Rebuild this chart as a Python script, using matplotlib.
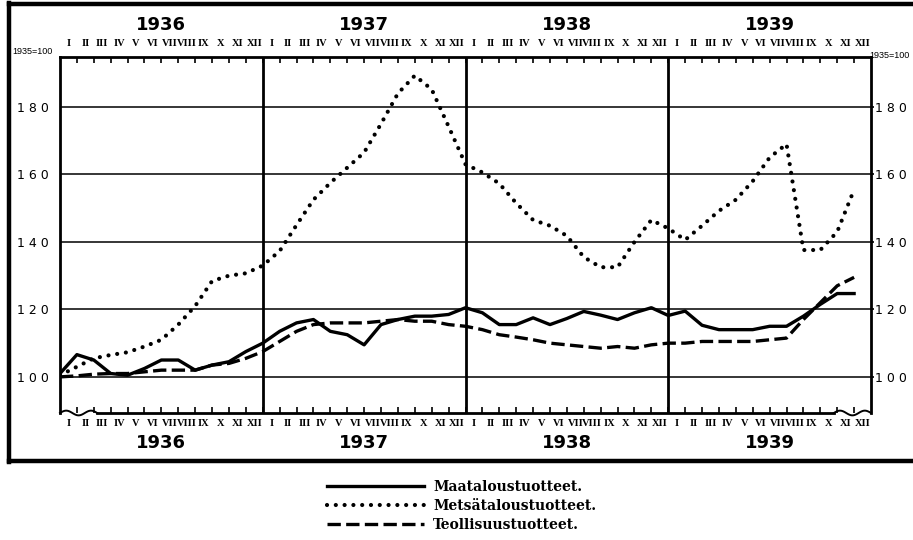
import numpy as np
import matplotlib
matplotlib.use("Agg")
import matplotlib.pyplot as plt
from matplotlib.lines import Line2D

# index values 1935 = 100, monthly, Jan 1936 .. Dec 1939
years = ["1936", "1937", "1938", "1939"]
months = ["I", "II", "III", "IV", "V", "VI", "VII", "VIII", "IX", "X", "XI", "XII"]

maatalous = [
    101, 106.6, 105, 101, 100.5, 102.5, 105, 105, 102, 103.5, 104.5, 107.5,
    110, 113.5, 116, 117, 113.5, 112.5, 109.5, 115.5, 117, 118, 118, 118.5,
    120.5, 119, 115.5, 115.5, 117.5, 115.5, 117.3, 119.4, 118.3, 117, 119, 120.5,
    118.2, 119.5, 115.3, 114, 114, 114, 115, 115, 118, 121.5, 124.7, 124.7,
]
metsatalous = [
    100.5, 103, 105.5, 106.5, 107.3, 109, 111, 115.5, 121, 128.4, 130, 130.7,
    133, 137.3, 145, 152.5, 157.5, 162, 166.5, 175, 184, 189.3, 185.2, 174.2,
    163, 160.6, 157.3, 151.5, 146.5, 144.8, 141.8, 135.5, 132.5, 132.5, 140, 146.5,
    144, 140.6, 144.8, 149.2, 152.5, 158, 165, 169, 137.6, 137.6, 143, 155.5,
]
teollisuus = [
    100, 100.3, 100.8, 101, 101, 101.5, 102, 102, 102, 103.5, 104, 105.5,
    107.5, 110.5, 113.5, 115.5, 116, 116, 116, 116.5, 117, 116.5, 116.5, 115.5,
    115, 114, 112.5, 111.8, 111, 110, 109.5, 109, 108.5, 109, 108.5, 109.5,
    110, 110, 110.5, 110.5, 110.5, 110.5, 111, 111.5, 117, 122, 127, 129.5,
]
labels = ["Maataloustuotteet.", "Metsätaloustuotteet.", "Teollisuustuotteet."]
grid_values = [100, 120, 140, 160, 180]

W, H = 913, 540
fig = plt.figure(figsize=(W / 100, H / 100), dpi=100)
ax = fig.add_axes([60 / W, 1 - 413 / H, 811 / W, 356 / H])

x = np.arange(len(maatalous))
ax.plot(x, maatalous, color="black", lw=2.4, solid_joinstyle="round",
        label=labels[0])
ax.plot(x, metsatalous, color="black", lw=3.0, linestyle=(0, (0.01, 2.1)),
        dash_capstyle="round", label=labels[1])
ax.plot(x, teollisuus, color="black", lw=2.4, linestyle=(0, (4, 1.6)),
        label=labels[2])

n = len(maatalous)
ymin, ymax = 89.3, 194.8
ax.set_xlim(0, n)
ax.set_ylim(ymin, ymax)

# horizontal grid and year separators
for g in grid_values:
    ax.axhline(g, color="black", lw=1.1, zorder=0)
for k in range(1, len(years)):
    ax.axvline(12 * k, color="black", lw=2.0, zorder=0)

for side in ["left", "right", "top"]:
    ax.spines[side].set_linewidth(2.0)
ax.spines["bottom"].set_visible(False)

# bottom edge with small wavy breaks at both ends
bx = np.linspace(0, 2.2, 60)
wave = 0.7 * np.sin(bx / 2.2 * 3 * np.pi)
ax.plot(bx, ymin + wave, color="black", lw=1.4, clip_on=False)
ax.plot([2.2, n - 2.2], [ymin, ymin], color="black", lw=2.0, clip_on=False)
ax.plot(n - 2.2 + bx, ymin + wave, color="black", lw=1.4, clip_on=False)

# month ticks on top and bottom, inside
ax.set_xticks(np.arange(1, n))
ax.tick_params(axis="x", which="both", direction="in", length=4, width=1.2,
               top=True, bottom=True, labelbottom=False, labeltop=False)

spaced = [" ".join(str(v)) for v in grid_values]
ax.set_yticks(grid_values)
ax.set_yticklabels(spaced)
ax.tick_params(axis="y", length=0, pad=8, labelsize=9)

ax2 = ax.twinx()
ax2.set_ylim(ax.get_ylim())
ax2.set_yticks(grid_values)
ax2.set_yticklabels(spaced)
ax2.tick_params(axis="y", length=2, width=1.2, pad=1, labelsize=9)
for side in ["left", "right", "top", "bottom"]:
    ax2.spines[side].set_visible(False)

# month and year labels
trans = ax.get_xaxis_transform()
roman = dict(family="Liberation Serif", fontweight="bold", fontsize=7.5,
             ha="center", va="center")
for yi, yr in enumerate(years):
    for mi, m in enumerate(months):
        xm = 12 * yi + mi + 0.5
        ax.text(xm, 1.037, m, transform=trans, **roman)
        ax.text(xm, -0.03, m, transform=trans, **roman)
    ax.text(12 * yi + 6, 1.09, yr, transform=trans, ha="center", va="center",
            fontsize=13, fontweight="bold")
    ax.text(12 * yi + 6, -0.083, yr, transform=trans, ha="center",
            va="center", fontsize=13, fontweight="bold")

base = dict(family="Liberation Sans", fontsize=6.5, va="center")
fig.text(12 / W, 1 - 51 / H, "1935=100", ha="left", **base)
fig.text(910 / W, 1 - 56 / H, "1935=100", ha="right", **base)

# outer frame (left, top, bottom)
for xs, ys in [([9, 9], [3, 462]), ([9, W], [4, 4]), ([9, W], [461, 461])]:
    fig.add_artist(Line2D([v / W for v in xs], [1 - v / H for v in ys],
                          color="black", lw=3.2, transform=fig.transFigure))

fig.legend(loc="upper left", bbox_to_anchor=(327 / W, 1 - 480 / H),
           frameon=False, handlelength=7.0, handletextpad=0.65,
           labelspacing=0.35, borderaxespad=0, borderpad=0,
           prop=dict(family="DejaVu Serif", weight="bold", size=10))

fig.savefig("out.png", dpi=100)
